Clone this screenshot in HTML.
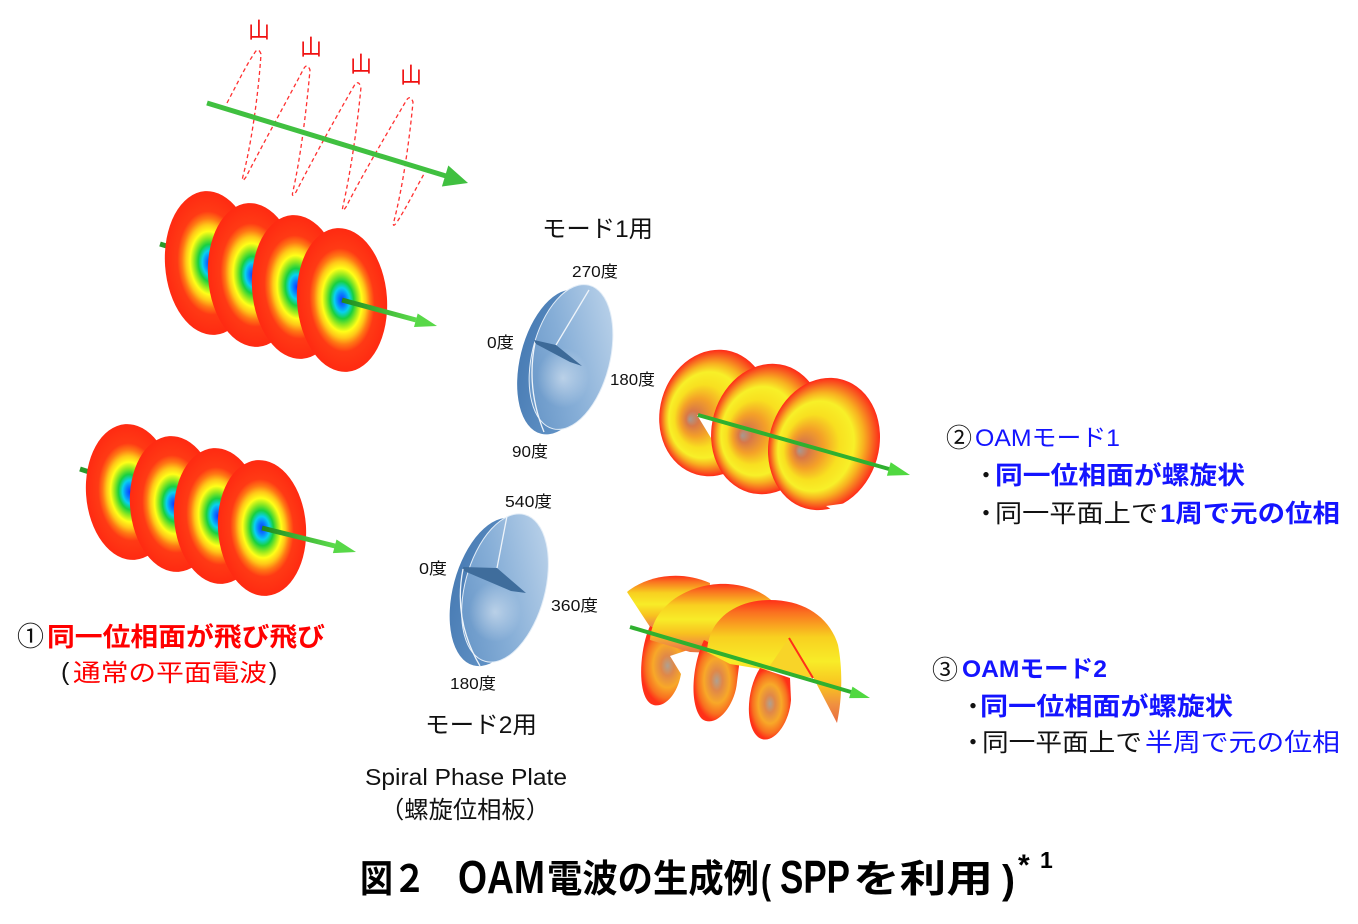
<!DOCTYPE html>
<html><head><meta charset="utf-8">
<style>
html,body{margin:0;padding:0;background:#fff;}
svg{display:block;}
text{font-family:"Liberation Sans","Noto Sans CJK JP",sans-serif;}
</style></head><body>
<svg width="1358" height="924" viewBox="0 0 1358 924" xmlns="http://www.w3.org/2000/svg">
<defs>
 <radialGradient id="dg" cx=".5" cy=".5" r=".5">
  <stop offset="0" stop-color="#1038ff"/>
  <stop offset=".09" stop-color="#0a80ff"/>
  <stop offset=".17" stop-color="#08d0f0"/>
  <stop offset=".26" stop-color="#18d040"/>
  <stop offset=".35" stop-color="#90e820"/>
  <stop offset=".44" stop-color="#ffff18"/>
  <stop offset=".53" stop-color="#ffc818"/>
  <stop offset=".62" stop-color="#ff7814"/>
  <stop offset=".72" stop-color="#ff3a14"/>
  <stop offset="1" stop-color="#ff2a12"/>
 </radialGradient>
 <linearGradient id="ag" x1="0" y1="0" x2="1" y2="0">
  <stop offset="0" stop-color="#1e8a1e"/>
  <stop offset="1" stop-color="#5cdc4c"/>
 </linearGradient>
 <linearGradient id="rim" x1="0" y1="0" x2="1" y2="0">
  <stop offset="0" stop-color="#4a7db5"/>
  <stop offset="1" stop-color="#6b9bcc"/>
 </linearGradient>
 <linearGradient id="face" x1="0" y1="1" x2="1" y2="0">
  <stop offset="0" stop-color="#5d8ec2"/>
  <stop offset=".45" stop-color="#86aed7"/>
  <stop offset="1" stop-color="#c6daee"/>
 </linearGradient>
 <radialGradient id="hl" cx=".5" cy=".5" r=".5">
  <stop offset="0" stop-color="#ffffff" stop-opacity=".45"/>
  <stop offset="1" stop-color="#ffffff" stop-opacity="0"/>
 </radialGradient>
 <radialGradient id="tg" cx=".5" cy=".5" r=".5" fx=".3" fy=".6">
  <stop offset="0" stop-color="#a89890"/>
  <stop offset=".12" stop-color="#d87848"/>
  <stop offset=".3" stop-color="#f4a028"/>
  <stop offset=".5" stop-color="#f8e020"/>
  <stop offset=".68" stop-color="#f8f028"/>
  <stop offset=".8" stop-color="#f8b020"/>
  <stop offset=".92" stop-color="#f86020"/>
  <stop offset="1" stop-color="#ff2a18"/>
 </radialGradient>
 <linearGradient id="fan" x1="0" y1="0" x2="0" y2="1">
  <stop offset="0" stop-color="#ff3018"/>
  <stop offset=".1" stop-color="#fa7020"/>
  <stop offset=".3" stop-color="#f8d020"/>
  <stop offset=".5" stop-color="#f8ec28"/>
  <stop offset=".7" stop-color="#f8c020"/>
  <stop offset=".85" stop-color="#f09040"/>
  <stop offset="1" stop-color="#e86a40"/>
 </linearGradient>
 <radialGradient id="lobe" cx=".5" cy=".5" r=".5" fx=".5" fy=".5">
  <stop offset="0" stop-color="#b0a090"/>
  <stop offset=".25" stop-color="#e08848"/>
  <stop offset=".55" stop-color="#f8a828"/>
  <stop offset=".82" stop-color="#f87020"/>
  <stop offset="1" stop-color="#ff3018"/>
 </radialGradient>
</defs>

<!-- 山 labels -->
<g fill="#f01010" font-size="22" text-anchor="middle">
 <text x="259" y="38">山</text>
 <text x="311" y="55">山</text>
 <text x="361" y="72">山</text>
 <text x="411" y="83">山</text>
</g>
<!-- dashed helix -->
<path d="M227,103 C238,82 248,62 254,54 Q258,46 261,54 C258,100 250,150 243,176 Q241,184 246,177 C265,140 290,95 303,70 Q307,62 310,70 C306,115 300,160 293,191 Q291,199 296,192 C315,155 340,110 354,86 Q358,79 361,87 C357,130 350,175 343,206 Q341,214 346,207 C365,170 392,125 406,101 Q410,94 413,102 C409,145 402,190 394,221 Q392,229 397,222 C405,210 415,190 424,174" fill="none" stroke="#ff3030" stroke-width="1.3" stroke-dasharray="4 3"/>
<!-- big green arrow -->
<line x1="207" y1="103" x2="446" y2="176" stroke="#40c040" stroke-width="5"/>
<polygon points="468,183 441.9,186.5 448.3,165.5" fill="#40c040"/>

<!-- top disks -->
<line x1="160" y1="244" x2="342" y2="300" stroke="#2a9a2a" stroke-width="5"/>
<g fill="url(#dg)">
 <ellipse cx="210" cy="263" rx="45" ry="72" transform="rotate(-4 210 263)"/>
 <ellipse cx="253" cy="275" rx="45" ry="72" transform="rotate(-4 253 275)"/>
 <ellipse cx="297" cy="287" rx="45" ry="72" transform="rotate(-4 297 287)"/>
 <ellipse cx="342" cy="300" rx="45" ry="72" transform="rotate(-4 342 300)"/>
</g>
<line x1="342" y1="300" x2="416" y2="320" stroke="url(#ag)" stroke-width="5"/>
<polygon points="437,326 414,327 417.7,313.5" fill="#58d848"/>

<!-- bottom disks -->
<line x1="80" y1="469" x2="262" y2="528" stroke="#2a9a2a" stroke-width="5"/>
<g fill="url(#dg)">
 <ellipse cx="130" cy="492" rx="44" ry="68" transform="rotate(-4 130 492)"/>
 <ellipse cx="174" cy="504" rx="44" ry="68" transform="rotate(-4 174 504)"/>
 <ellipse cx="218" cy="516" rx="44" ry="68" transform="rotate(-4 218 516)"/>
 <ellipse cx="262" cy="528" rx="44" ry="68" transform="rotate(-4 262 528)"/>
</g>
<line x1="262" y1="528" x2="335" y2="546" stroke="url(#ag)" stroke-width="5"/>
<polygon points="356,552 332.9,553.1 336.5,539.5" fill="#58d848"/>

<!-- left texts -->
<text x="17" y="646" font-size="27" fill="#111">①</text>
<text x="47" y="646" font-size="26" font-weight="bold" fill="#f00" textLength="278" lengthAdjust="spacingAndGlyphs">同一位相面が飛び飛び</text>
<text x="61" y="680" font-size="25" fill="#111">(</text>
<text x="73" y="681" font-size="24" fill="#f00" textLength="194" lengthAdjust="spacingAndGlyphs">通常の平面電波</text>
<text x="269" y="680" font-size="25" fill="#111">)</text>

<!-- plate 1 -->
<text x="542" y="237" font-size="24" fill="#111" textLength="111" lengthAdjust="spacingAndGlyphs">モード1用</text>
<g font-size="16" fill="#111">
 <text x="572" y="277" textLength="46" lengthAdjust="spacingAndGlyphs">270度</text>
 <text x="487" y="348" textLength="27" lengthAdjust="spacingAndGlyphs">0度</text>
 <text x="610" y="385" textLength="45" lengthAdjust="spacingAndGlyphs">180度</text>
 <text x="512" y="457" textLength="36" lengthAdjust="spacingAndGlyphs">90度</text>
</g>
<ellipse cx="559" cy="362" rx="39" ry="74" transform="rotate(14 559 362)" fill="url(#rim)"/>
<ellipse cx="571" cy="357" rx="39" ry="74" transform="rotate(14 571 357)" fill="url(#face)" stroke="#e3edf7" stroke-width="1"/>
<ellipse cx="563" cy="378" rx="26" ry="30" fill="url(#hl)"/>
<polygon points="534,340 556,345 582,366 570,362 536,344" fill="#3d6a98"/>
<path d="M589,290 L556,345 M535,343 Q526,388 544,432" fill="none" stroke="#eef4fa" stroke-width="1.3"/>

<!-- plate 2 -->
<g font-size="16" fill="#111">
 <text x="505" y="507" textLength="47" lengthAdjust="spacingAndGlyphs">540度</text>
 <text x="419" y="574" textLength="28" lengthAdjust="spacingAndGlyphs">0度</text>
 <text x="551" y="611" textLength="47" lengthAdjust="spacingAndGlyphs">360度</text>
 <text x="450" y="689" textLength="46" lengthAdjust="spacingAndGlyphs">180度</text>
</g>
<ellipse cx="493" cy="592" rx="40" ry="76" transform="rotate(15 493 592)" fill="url(#rim)"/>
<ellipse cx="505" cy="588" rx="40" ry="76" transform="rotate(15 505 588)" fill="url(#face)" stroke="#e3edf7" stroke-width="1"/>
<ellipse cx="495" cy="612" rx="26" ry="30" fill="url(#hl)"/>
<polygon points="463,567 497,568 526,593 511,591 464,571" fill="#3f6d9c"/>
<path d="M507,516 L497,568 M463,569 Q453,620 480,666" fill="none" stroke="#eef4fa" stroke-width="1.3"/>
<text x="425" y="733" font-size="24" fill="#111" textLength="112" lengthAdjust="spacingAndGlyphs">モード2用</text>
<text x="365" y="785" font-size="23" fill="#111" textLength="202" lengthAdjust="spacingAndGlyphs">Spiral Phase Plate</text>
<text x="380" y="818" font-size="24" fill="#111" textLength="170" lengthAdjust="spacingAndGlyphs">（螺旋位相板）</text>

<!-- mode 1 helix -->
<ellipse cx="714" cy="413" rx="54" ry="64" transform="rotate(16 714 413)" fill="url(#tg)"/>
<polygon points="697,415 713,418 711,438" fill="#fff"/>
<ellipse cx="767" cy="429" rx="55" ry="66" transform="rotate(16 767 429)" fill="url(#tg)"/>
<ellipse cx="824" cy="444" rx="55" ry="67" transform="rotate(16 824 444)" fill="url(#tg)"/>
<polygon points="826,506 869,500 852,522" fill="#fff"/>
<line x1="698" y1="415" x2="889" y2="469" stroke="#2fb02f" stroke-width="4"/>
<polygon points="910,475 886.9,475.7 890.7,462.3" fill="#50d840"/>

<!-- mode 2 helix -->
<path d="M627,592 C645,577 678,569 710,583 L706,626 L654,633 Z" fill="url(#fan)"/>
<path d="M650,626 C641,645 637,685 647,700 C656,713 676,702 681,674 L670,656 L694,648 Z" fill="url(#lobe)"/>
<path d="M650,640 C652,605 690,582 728,584 C756,586 772,598 782,612 L760,655 L690,652 Z" fill="url(#fan)"/>
<path d="M704,640 C692,665 689,705 702,719 C716,729 735,706 737,682 L740,658 Z" fill="url(#lobe)"/>
<path d="M707,652 C708,620 735,600 770,600 C805,600 830,618 838,645 C843,670 842,700 837,723 L813,677 L767,670 L730,664 Z" fill="url(#fan)"/>
<path d="M760,668 C746,690 745,726 758,737 C771,747 789,726 791,700 L790,678 Z" fill="url(#lobe)"/>
<polygon points="767,670 789,638 813,678" fill="#f8d428"/>
<path d="M789,638 L813,678" stroke="#ff3018" stroke-width="2"/>
<line x1="630" y1="627" x2="851" y2="692" stroke="#2fb02f" stroke-width="4"/>
<polygon points="870,698 849.1,698.1 852.5,686.6" fill="#50d840"/>

<!-- right texts mode 1 -->
<text x="946" y="447" font-size="26" fill="#111">②</text>
<text x="975" y="446" font-size="24" fill="#1414ff" textLength="145" lengthAdjust="spacingAndGlyphs">OAMモード1</text>
<text x="986" y="484" font-size="25" fill="#111" text-anchor="middle">・</text>
<text x="995" y="484" font-size="25" font-weight="bold" fill="#1414ff" textLength="250" lengthAdjust="spacingAndGlyphs">同一位相面が螺旋状</text>
<text x="986" y="522" font-size="25" fill="#111" text-anchor="middle">・</text>
<text x="995" y="522" font-size="25" fill="#111" textLength="163" lengthAdjust="spacingAndGlyphs">同一平面上で</text>
<text x="1160" y="522" font-size="25" font-weight="bold" fill="#1414ff" textLength="180" lengthAdjust="spacingAndGlyphs">1周で元の位相</text>

<!-- right texts mode 2 -->
<text x="932" y="679" font-size="26" fill="#111">③</text>
<text x="962" y="677" font-size="24" font-weight="bold" fill="#1414ff" textLength="145" lengthAdjust="spacingAndGlyphs">OAMモード2</text>
<text x="973" y="715" font-size="25" fill="#111" text-anchor="middle">・</text>
<text x="980" y="715" font-size="25" font-weight="bold" fill="#1414ff" textLength="253" lengthAdjust="spacingAndGlyphs">同一位相面が螺旋状</text>
<text x="973" y="751" font-size="25" fill="#111" text-anchor="middle">・</text>
<text x="982" y="751" font-size="25" fill="#111" textLength="160" lengthAdjust="spacingAndGlyphs">同一平面上で</text>
<text x="1145" y="751" font-size="25" fill="#1414ff" textLength="195" lengthAdjust="spacingAndGlyphs">半周で元の位相</text>

<!-- caption -->
<g font-weight="bold" fill="#000">
 <text x="360" y="892" font-size="38" textLength="66" lengthAdjust="spacingAndGlyphs">図２</text>
 <text x="458" y="893" font-size="46" textLength="87" lengthAdjust="spacingAndGlyphs">OAM</text>
 <text x="547" y="892" font-size="38" textLength="212" lengthAdjust="spacingAndGlyphs">電波の生成例</text>
 <text x="761" y="893" font-size="40" textLength="10" lengthAdjust="spacingAndGlyphs">(</text>
 <text x="780" y="893" font-size="46" textLength="70" lengthAdjust="spacingAndGlyphs">SPP</text>
 <text x="853" y="892" font-size="38" textLength="140" lengthAdjust="spacingAndGlyphs">を利用</text>
 <text x="1002" y="893" font-size="40" textLength="13" lengthAdjust="spacingAndGlyphs">)</text>
 <text x="1018" y="875" font-size="30" font-family="Liberation Sans, sans-serif">*</text>
 <text x="1040" y="868" font-size="23" font-family="Liberation Sans, sans-serif">1</text>
</g>
</svg>
</body></html>
